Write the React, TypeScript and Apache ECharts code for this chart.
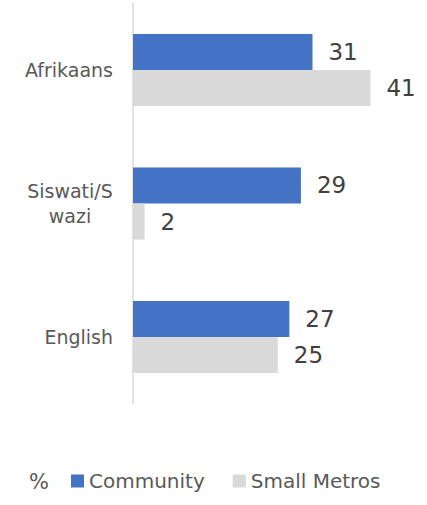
import React, { useEffect, useRef } from "react";
import * as echarts from "echarts";

const categories = ["Afrikaans", "Siswati/S\nwazi", "English"];
const seriesNames = ["Community", "Small Metros"];
const communityValues = [31, 29, 27];
const smallMetrosValues = [41, 2, 25];
const colors = ["#4472C4", "#D9D9D9"];

const FONT = "DejaVu Sans";

export default function App() {
  const ref = useRef<HTMLDivElement>(null);
  useEffect(() => {
    if (!ref.current) return;
    const chart = echarts.init(ref.current, undefined, { renderer: "svg" });
    const valueLabel = {
      show: true,
      position: "right" as const,
      distance: 16,
      color: "#404040",
      fontSize: 23,
      fontFamily: FONT,
    };
    chart.setOption({
      animation: false,
      grid: { left: 133, right: 4.5, top: 3.25, bottom: 101.25, containLabel: false },
      xAxis: {
        type: "value",
        min: 0,
        max: 50,
        show: false,
      },
      yAxis: {
        type: "category",
        data: categories,
        inverse: true,
        axisLine: { show: true, lineStyle: { color: "#D9D9D9", width: 1.5 } },
        axisTick: { show: false },
        axisLabel: {
          margin: 20,
          color: "#595959",
          fontSize: 19,
          fontFamily: FONT,
          lineHeight: 25,
          formatter: (v: string) => {
            if (v.indexOf("\n") >= 0) {
              return v
                .split("\n")
                .map((s) => "{c|" + s + "}")
                .join("\n");
            }
            return v;
          },
          rich: {
            c: {
              width: 86,
              align: "center",
              color: "#595959",
              fontSize: 19,
              fontFamily: FONT,
              lineHeight: 25,
            },
          },
        },
      },
      legend: {
        data: seriesNames,
        left: 71,
        top: 471,
        padding: 0,
        itemWidth: 13,
        itemHeight: 13,
        itemGap: 28,
        icon: "rect",
        textStyle: { color: "#595959", fontSize: 20, fontFamily: FONT },
      },
      graphic: [
        {
          type: "text",
          left: 29,
          top: 471,
          style: { text: "%", fill: "#595959", fontSize: 21, fontFamily: FONT },
        },
      ],
      series: [
        {
          name: seriesNames[0],
          type: "bar",
          data: communityValues,
          itemStyle: { color: colors[0] },
          barGap: "0%",
          barCategoryGap: "46%",
          label: valueLabel,
        },
        {
          name: seriesNames[1],
          type: "bar",
          data: smallMetrosValues,
          itemStyle: { color: colors[1] },
          barGap: "0%",
          barCategoryGap: "46%",
          label: valueLabel,
        },
      ],
    });
    return () => chart.dispose();
  }, []);
  return (
    <div
      ref={ref}
      style={{ position: "absolute", left: 0, top: 0, width: 427, height: 505 }}
    />
  );
}
